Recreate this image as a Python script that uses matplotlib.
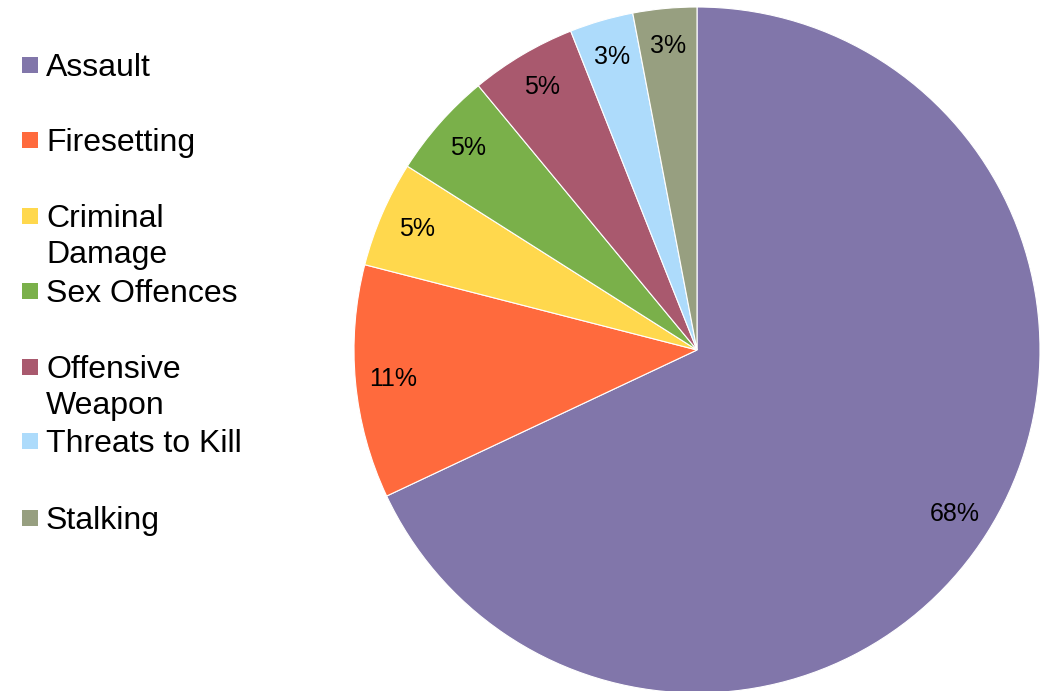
import matplotlib
matplotlib.use("Agg")
import matplotlib.pyplot as plt
from matplotlib.patches import Rectangle

plt.rcParams['font.family'] = ['Liberation Sans', 'DejaVu Sans']

categories = ["Assault", "Firesetting", "Criminal\nDamage", "Sex Offences",
              "Offensive\nWeapon", "Threats to Kill", "Stalking"]
shares = [68, 11, 5, 5, 5, 3, 3]
colors = ["#8176AA", "#FF6A3D", "#FFD84D", "#7AB04A", "#A9596E", "#ADDBFB", "#979F80"]

W, H = 1051, 691
fig = plt.figure(figsize=(W / 100, H / 100), dpi=100)

# pie axes: centre (697, 350) px, radius 343 px
cx, cy, r = 697, 350, 343
ax = fig.add_axes([(cx - r) / W, (H - cy - r) / H, 2 * r / W, 2 * r / H])
ax.pie(shares, colors=colors, startangle=90, counterclock=False,
       autopct=lambda p: f"{p:.0f}%", pctdistance=0.89, radius=1.0,
       wedgeprops=dict(edgecolor="white", linewidth=0.8),
       textprops=dict(fontsize=18, color="black"))
ax.set_xlim(-1, 1)
ax.set_ylim(-1, 1)
ax.set_aspect("equal")
ax.axis("off")

# legend drawn as squares with labels, one text per line
legend_y = [65, 140, 216, 291, 367, 441, 518]
line_step = 36
for label, col, y in zip(categories, colors, legend_y):
    fig.patches.append(Rectangle((22 / W, 1 - (y + 8) / H), 16 / W, 16 / H,
                                 transform=fig.transFigure, facecolor=col,
                                 edgecolor="none"))
    for i, line in enumerate(label.split("\n")):
        fig.text(46 / W, 1 - (y + 11 + i * line_step) / H, line, fontsize=23,
                 va="baseline", ha="left")

fig.savefig("out.png", dpi=100)
